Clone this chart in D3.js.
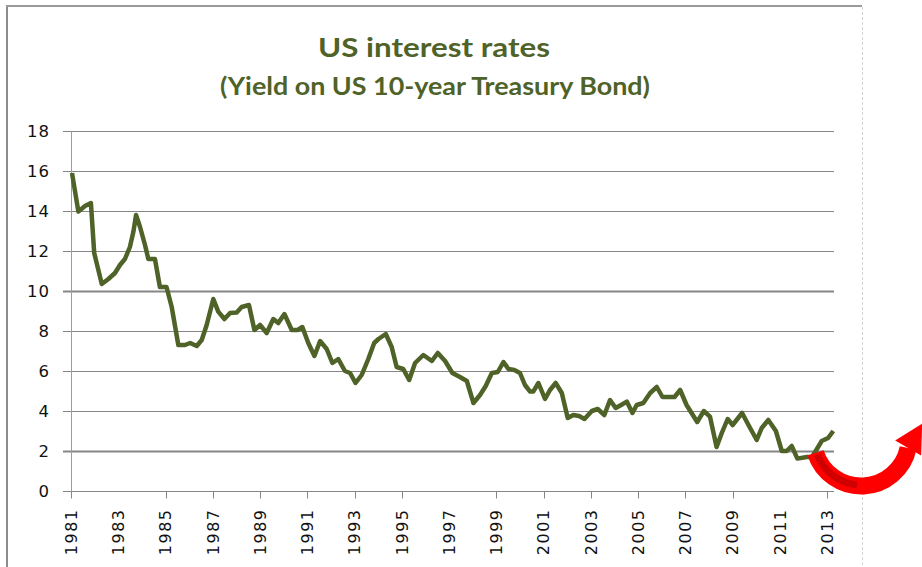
<!DOCTYPE html>
<html>
<head>
<meta charset="utf-8">
<script src="https://cdn.jsdelivr.net/npm/d3@7"></script>
<style>
  html, body { margin: 0; padding: 0; background: #ffffff; }
  svg { display: block; }
</style>
</head>
<body>
<script>
// ---- Data ----
const titleText = "US interest rates";
const subtitleText = "(Yield on US 10-year Treasury Bond)";

const years = [
  1981.00, 1981.27, 1981.55, 1981.80, 1981.94, 1982.26, 1982.54, 1982.82, 1983.03, 1983.24,
  1983.45, 1983.60, 1983.71, 1983.88, 1984.09, 1984.23, 1984.51, 1984.72, 1985.00, 1985.22,
  1985.50, 1985.78, 1986.00, 1986.28, 1986.49, 1986.70, 1986.98, 1987.19, 1987.45, 1987.69,
  1987.97, 1988.18, 1988.49, 1988.72, 1988.96, 1989.24, 1989.52, 1989.73, 1989.99, 1990.30,
  1990.55, 1990.75, 1991.00, 1991.26, 1991.50, 1991.78, 1992.02, 1992.27, 1992.55, 1992.77,
  1993.00, 1993.26, 1993.54, 1993.79, 1993.97, 1994.28, 1994.53, 1994.74, 1995.02, 1995.27,
  1995.52, 1995.87, 1996.23, 1996.48, 1996.79, 1997.10, 1997.42, 1997.71, 1997.99, 1998.27,
  1998.51, 1998.77, 1999.02, 1999.26, 1999.47, 1999.72, 1999.96, 2000.17, 2000.39, 2000.52,
  2000.74, 2001.02, 2001.23, 2001.47, 2001.73, 2001.98, 2002.22, 2002.46, 2002.69, 2003.00,
  2003.25, 2003.53, 2003.77, 2004.01, 2004.24, 2004.48, 2004.72, 2004.90, 2005.18, 2005.47,
  2005.75, 2005.99, 2006.50, 2006.74, 2007.01, 2007.46, 2007.74, 2008.00, 2008.28, 2008.50,
  2008.75, 2008.96, 2009.36, 2009.63, 2009.98, 2010.19, 2010.47, 2010.79, 2011.04, 2011.25,
  2011.46, 2011.70, 2012.10, 2012.31, 2012.45, 2012.73, 2013.00, 2013.22
];
const yields = [
  15.90, 13.97, 14.25, 14.40, 11.90, 10.35, 10.60, 10.90, 11.30, 11.60,
  12.20, 12.97, 13.80, 13.20, 12.30, 11.60, 11.60, 10.20, 10.20, 9.20,
  7.30, 7.30, 7.40, 7.25, 7.55, 8.30, 9.60, 8.97, 8.60, 8.90,
  8.93, 9.20, 9.30, 8.05, 8.30, 7.90, 8.60, 8.40, 8.85, 8.05,
  8.05, 8.20, 7.40, 6.75, 7.50, 7.10, 6.40, 6.60, 6.00, 5.90,
  5.40, 5.80, 6.60, 7.40, 7.60, 7.85, 7.20, 6.20, 6.10, 5.55,
  6.40, 6.80, 6.50, 6.90, 6.50, 5.90, 5.70, 5.50, 4.40, 4.80,
  5.25, 5.90, 5.95, 6.45, 6.10, 6.05, 5.90, 5.30, 4.97, 4.97,
  5.40, 4.60, 5.05, 5.40, 4.90, 3.65, 3.80, 3.75, 3.60, 4.00,
  4.10, 3.80, 4.55, 4.15, 4.30, 4.47, 3.90, 4.30, 4.40, 4.90,
  5.20, 4.70, 4.70, 5.05, 4.30, 3.45, 4.00, 3.72, 2.20, 2.90,
  3.60, 3.30, 3.90, 3.30, 2.55, 3.15, 3.55, 3.00, 2.00, 2.00,
  2.25, 1.62, 1.70, 1.70, 1.95, 2.50, 2.65, 3.00
];
const xTickLabels = [1981, 1983, 1985, 1987, 1989, 1991, 1993, 1995, 1997, 1999, 2001, 2003, 2005, 2007, 2009, 2011, 2013];
const xTickMarks  = [1981, 1985, 1987, 1989, 1991, 1993, 1995, 1999, 2001, 2003, 2005, 2007, 2009, 2013];
const yTickValues = [0, 2, 4, 6, 8, 10, 12, 14, 16, 18];

// ---- Layout ----
const W = 922, H = 567;
const svg = d3.select("body").append("svg").attr("width", W).attr("height", H);
svg.append("rect").attr("width", W).attr("height", H).attr("fill", "#fff");

const x = d3.scaleLinear().domain([1981, 2013.25]).range([72, 834]);
const y = d3.scaleLinear().domain([0, 18]).range([491, 131]);
const crisp = v => Math.round(v) + 0.5;

// chart frame
svg.append("line").attr("x1", 7).attr("x2", 7).attr("y1", 5).attr("y2", H)
  .attr("stroke", "#8c8c8c").attr("stroke-width", 2);
svg.append("line").attr("x1", 6).attr("x2", 862).attr("y1", 6).attr("y2", 6)
  .attr("stroke", "#9a9a9a").attr("stroke-width", 2);
svg.append("line").attr("x1", 862.5).attr("x2", 862.5).attr("y1", 7).attr("y2", H)
  .attr("stroke", "#d4d4d4").attr("stroke-width", 1).attr("stroke-dasharray", "3,2");

// titles
const titleColor = "#4F6228";
svg.append("text").attr("x", 434).attr("y", 57).attr("text-anchor", "middle")
  .attr("font-family", "Lato, 'Open Sans', sans-serif").attr("font-weight", "bold")
  .attr("font-size", 26).attr("fill", titleColor)
  .attr("textLength", 232).attr("lengthAdjust", "spacingAndGlyphs")
  .text(titleText);
svg.append("text").attr("x", 435).attr("y", 95).attr("text-anchor", "middle")
  .attr("font-family", "Lato, 'Open Sans', sans-serif").attr("font-weight", "bold")
  .attr("font-size", 24).attr("fill", titleColor)
  .attr("textLength", 430).attr("lengthAdjust", "spacingAndGlyphs")
  .text(subtitleText);

// y axis + gridlines
const yAxis = d3.axisLeft(y).tickValues(yTickValues).tickFormat(d3.format("d")).tickSizeOuter(0);
const gy = svg.append("g").attr("transform", "translate(72,0)").call(yAxis);
gy.select(".domain").remove();
gy.selectAll(".tick").attr("transform", d => `translate(0,${crisp(y(d))})`);
gy.selectAll(".tick line")
  .attr("x1", -9).attr("x2", x(2013.25) - 72)
  .attr("stroke", "#868686")
  .attr("stroke-width", d => (d === 10 || d === 2) ? 2 : 1);
gy.selectAll(".tick text")
  .attr("x", -22).attr("dy", "0.36em")
  .attr("font-family", "'DejaVu Sans', sans-serif").attr("font-size", 16.5)
  .attr("letter-spacing", "1px")
  .attr("fill", "#111");

// vertical axis line
svg.append("line").attr("x1", crisp(x(1981)) - 1).attr("x2", crisp(x(1981)) - 1)
  .attr("y1", y(18)).attr("y2", y(0) + 7)
  .attr("stroke", "#9c9c9c").attr("stroke-width", 1);

// x axis tick marks & labels
const gx = svg.append("g").attr("transform", `translate(0,${crisp(y(0))})`);
gx.selectAll("line.tm").data(xTickMarks).join("line").attr("class", "tm")
  .attr("x1", d => crisp(x(d)) - 1).attr("x2", d => crisp(x(d)) - 1)
  .attr("y1", 0).attr("y2", 7)
  .attr("stroke", "#868686").attr("stroke-width", 1);
gx.selectAll("text").data(xTickLabels).join("text")
  .attr("transform", d => `translate(${x(d) - 1},17) rotate(-90)`)
  .attr("text-anchor", "end").attr("dy", "0.36em")
  .attr("font-family", "'DejaVu Sans', sans-serif").attr("font-size", 16)
  .attr("letter-spacing", "1.5px")
  .attr("fill", "#111")
  .text(d => d);

// data line
const pts = years.map((t, i) => [t, yields[i]]);
const line = d3.line().x(d => x(d[0])).y(d => y(d[1])).curve(d3.curveLinear);
svg.append("path").datum(pts).attr("d", line)
  .attr("fill", "none").attr("stroke", "#4F6228").attr("stroke-width", 4.5)
  .attr("stroke-linejoin", "round").attr("stroke-linecap", "butt");

// red curved arrow annotation (anchored near the 2012 low)
const cx = x(2012.2) + 52, cy = y(1.7) - 19, r = 48;
const toRad = a => a * Math.PI / 180;
const pt = (a, rr) => [cx + rr * Math.cos(toRad(a)), cy + rr * Math.sin(toRad(a))];
const arcPath = (a0, a1, rr) => {
  const p = d3.path();
  const s = pt(a0, rr);
  p.moveTo(s[0], s[1]);
  p.arc(cx, cy, rr, toRad(a0), toRad(a1), true);
  return p.toString();
};
const arrow = svg.append("g");
arrow.append("path").attr("d", arcPath(162, 12, r))
  .attr("fill", "none").attr("stroke", "#FF0000").attr("stroke-width", 17);
arrow.append("path").attr("d", arcPath(159, 95, r - 1))
  .attr("fill", "none").attr("stroke", "#C00000").attr("stroke-width", 7).attr("opacity", 0.75);
// arrowhead
const hb = pt(12, r);
const ang = toRad(-60); // pointing up-right
const tip = [hb[0] + 28 * Math.cos(ang), hb[1] + 28 * Math.sin(ang)];
const perp = ang + Math.PI / 2;
const b1 = [hb[0] + 15 * Math.cos(perp), hb[1] + 15 * Math.sin(perp)];
const b2 = [hb[0] - 15 * Math.cos(perp), hb[1] - 15 * Math.sin(perp)];
arrow.append("path").attr("d", `M${b1}L${tip}L${b2}Z`).attr("fill", "#FF0000");
</script>
</body>
</html>
